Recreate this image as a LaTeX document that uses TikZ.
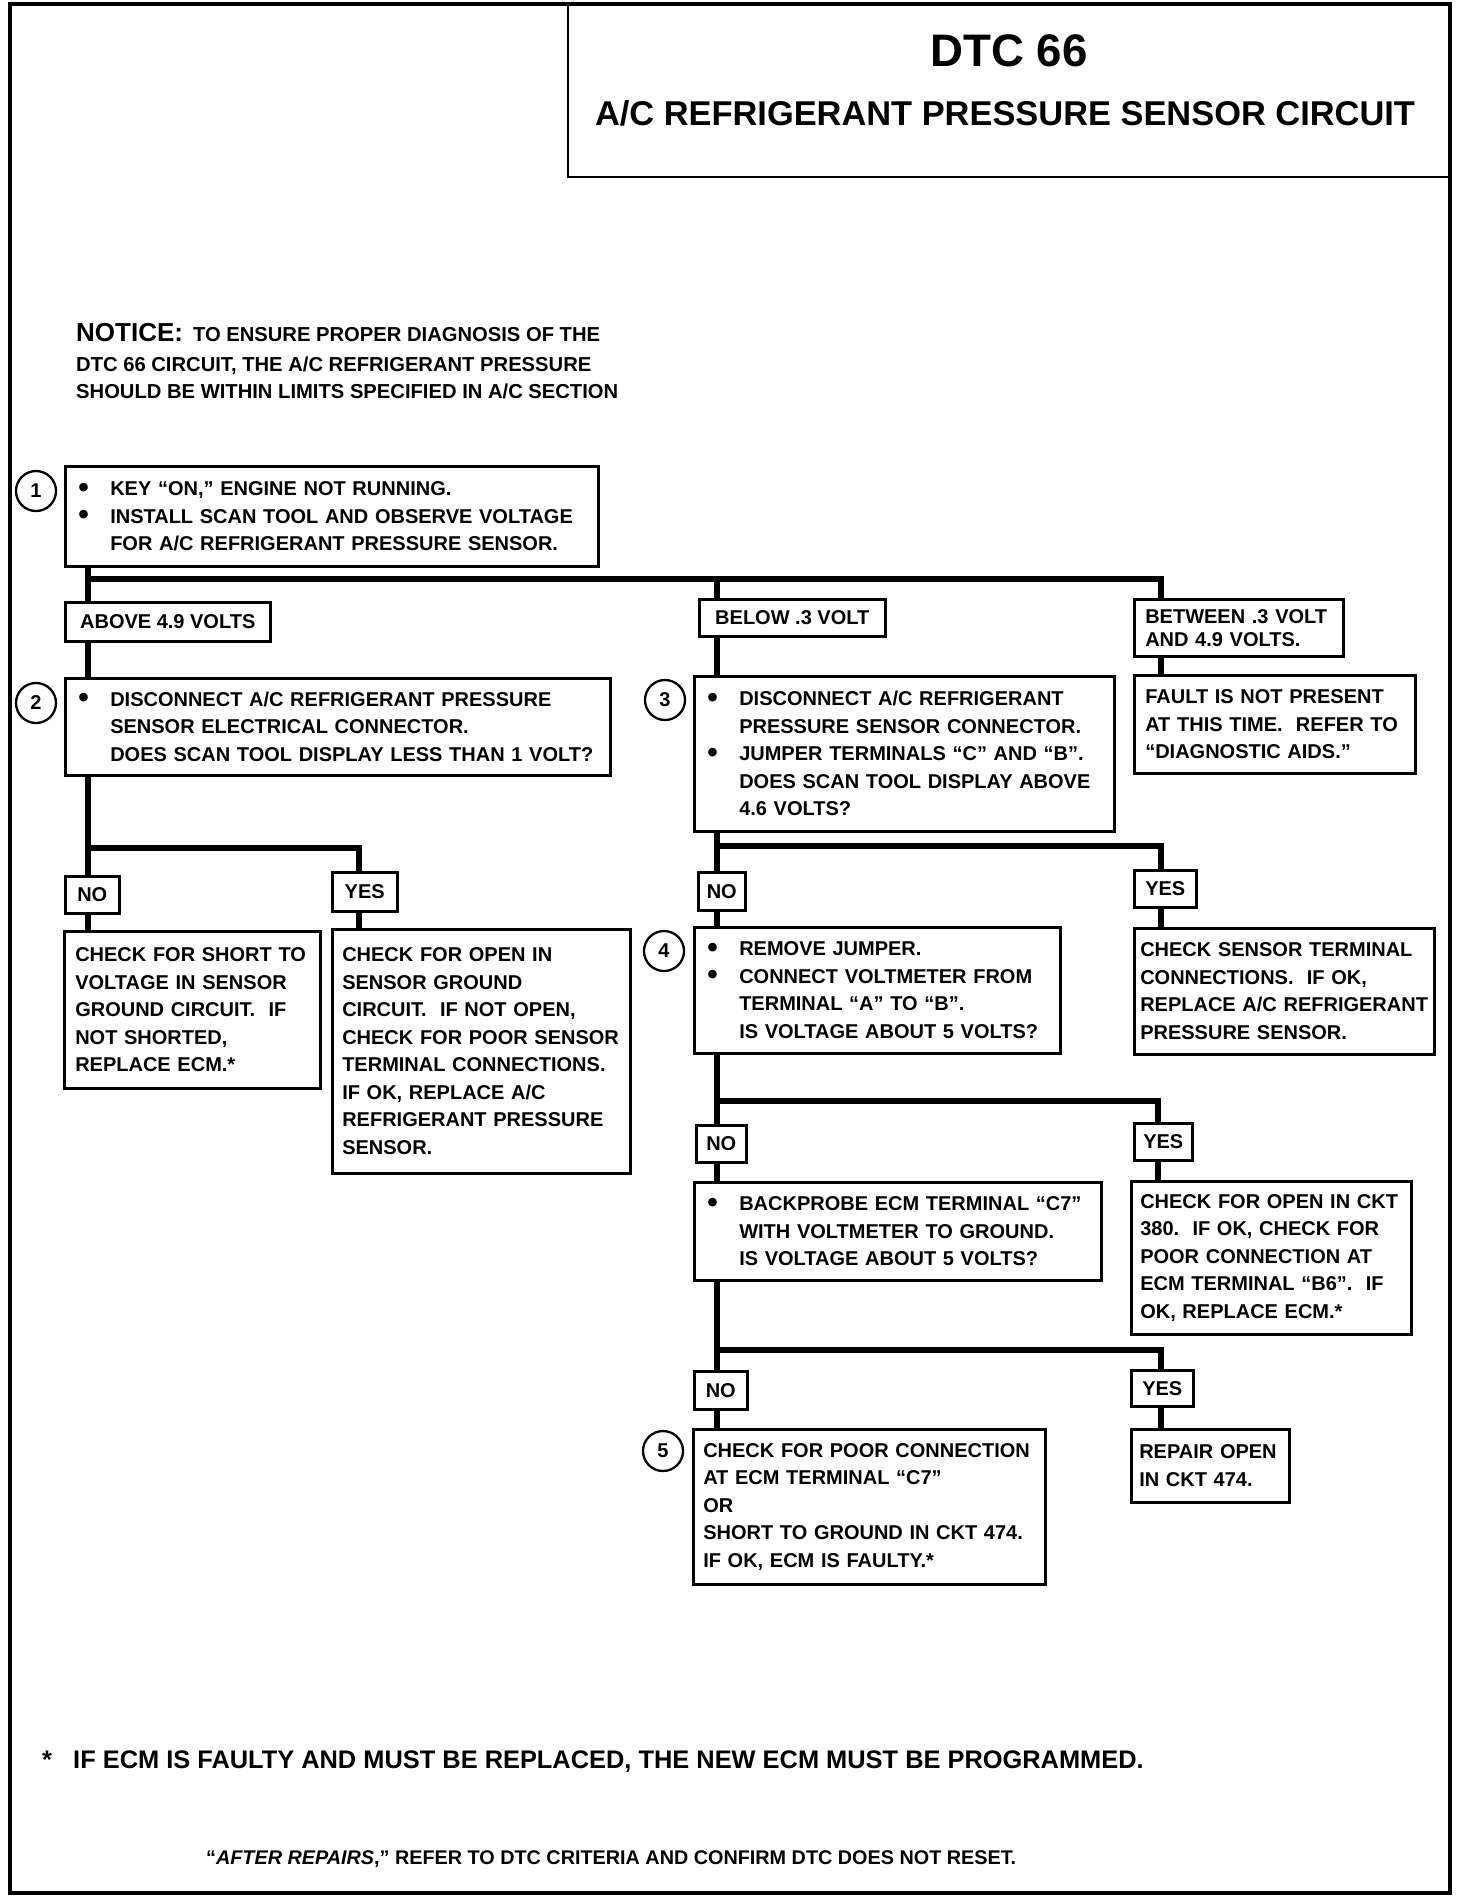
\documentclass[tikz,border=0pt]{standalone}
\usepackage{fontspec}
\setmainfont{Liberation Sans}
\newcommand\bodyf{\fontsize{20}{27.5}\selectfont\bfseries}
\newcommand\notef{\fontsize{20.2}{28}\selectfont\bfseries}
\newcommand\titlef{\fontsize{45.6}{50}\selectfont\bfseries}
\newcommand\subf{\fontsize{34.4}{40}\selectfont\bfseries}
\newcommand\footf{\fontsize{25.4}{30}\selectfont\bfseries}
\newcommand\bul{\hspace*{2pt}\makebox[32pt][l]{\smash{\raisebox{-1.5pt}{\scalebox{1.5}{•}}}}}
\newcommand\ind{\hspace*{34pt}}
\begin{document}
\begin{tikzpicture}[x=1pt,y=-1pt]
\tikzset{
  box/.style={draw, line width=2.5pt, anchor=north west, inner xsep=11pt, inner ysep=0pt, align=left, font=\bodyf},
  lbl/.style={draw, line width=2.5pt, anchor=north west, inner sep=0pt, align=center, font=\bodyf},
  conn/.style={line width=6.5pt, line join=miter},
  num/.style={draw, circle, line width=2.3pt, minimum size=40pt, inner sep=0pt, font=\bodyf},
}
\useasboundingbox (0,0) rectangle (1472,1900);
% frame and title
\draw[line width=3.5pt] (10,4) rectangle (1450,1893);
\draw[line width=2.6pt] (568,4) rectangle (1450,177);
\node[font=\titlef, anchor=base] (dtc) at (1009,67) {DTC 66};
\node[font=\subf, anchor=base] (sub) at (1005,125) {A/C REFRIGERANT PRESSURE SENSOR CIRCUIT};
% notice
\node[font=\notef, anchor=base west, inner sep=0pt] (n1) at (76,341) {{\fontsize{26}{28}\selectfont NOTICE:}\hspace{10pt}TO ENSURE PROPER DIAGNOSIS OF THE};
\node[font=\notef, anchor=base west, inner sep=0pt] (n2) at (76,371) {DTC 66 CIRCUIT, THE A/C REFRIGERANT PRESSURE};
\node[font=\notef, anchor=base west, inner sep=0pt] (n3) at (76,398) {SHOULD BE WITHIN LIMITS SPECIFIED IN A/C SECTION};
% left column
\node[box, text width=511pt, minimum width=533pt, minimum height=100pt] (b1) at (64,465)
 {\bul KEY “ON,” ENGINE NOT RUNNING.\\\bul INSTALL SCAN TOOL AND OBSERVE VOLTAGE\\\ind FOR A/C REFRIGERANT PRESSURE SENSOR.};
\node[num] (c1) at (36,491) {1};
\node[lbl, minimum width=205pt, minimum height=39pt] (above) at (64,601) {ABOVE 4.9 VOLTS};
\node[box, text width=523pt, minimum width=545pt, minimum height=97pt] (b2) at (64,677)
 {\bul DISCONNECT A/C REFRIGERANT PRESSURE\\\ind SENSOR ELECTRICAL CONNECTOR.\\\ind DOES SCAN TOOL DISPLAY LESS THAN 1 VOLT?};
\node[num] (c2) at (36,703) {2};
\node[lbl, minimum width=54pt, minimum height=37pt] (noL) at (64,875) {NO};
\node[lbl, minimum width=65pt, minimum height=39pt] (yesL) at (331,871) {YES};
\node[box, text width=234pt, minimum width=256pt, minimum height=157pt] (rNoL) at (63,930)
 {CHECK FOR SHORT TO\\VOLTAGE IN SENSOR\\GROUND CIRCUIT.\ \ IF\\NOT SHORTED,\\REPLACE ECM.*};
\node[box, text width=278pt, inner xsep=10pt, minimum width=298pt, minimum height=244pt] (rYesL) at (331,928)
 {CHECK FOR OPEN IN\\SENSOR GROUND\\CIRCUIT.\ \ IF NOT OPEN,\\CHECK FOR POOR SENSOR\\TERMINAL CONNECTIONS.\\IF OK, REPLACE A/C\\REFRIGERANT PRESSURE\\SENSOR.};
% middle column
\node[lbl, minimum width=186pt, minimum height=37pt] (below) at (698,598) {BELOW .3 VOLT};
\node[box, text width=398pt, minimum width=420pt, minimum height=155pt] (b3) at (693,675)
 {\bul DISCONNECT A/C REFRIGERANT\\\ind PRESSURE SENSOR CONNECTOR.\\\bul JUMPER TERMINALS “C” AND “B”.\\\ind DOES SCAN TOOL DISPLAY ABOVE\\\ind 4.6 VOLTS?};
\node[num] (c3) at (665,700) {3};
\node[lbl, minimum width=47pt, minimum height=38pt] (no3) at (697,871) {NO};
\node[box, text width=344pt, minimum width=366pt, minimum height=126pt] (b4) at (693,926)
 {\bul REMOVE JUMPER.\\\bul CONNECT VOLTMETER FROM\\\ind TERMINAL “A” TO “B”.\\\ind IS VOLTAGE ABOUT 5 VOLTS?};
\node[num] (c4) at (664,951) {4};
\node[lbl, minimum width=50pt, minimum height=37pt] (no4) at (695,1124) {NO};
\node[box, text width=385pt, minimum width=407pt, minimum height=98pt] (b5a) at (693,1181)
 {\bul BACKPROBE ECM TERMINAL “C7”\\\ind WITH VOLTMETER TO GROUND.\\\ind IS VOLTAGE ABOUT 5 VOLTS?};
\node[lbl, minimum width=53pt, minimum height=38pt] (no5) at (693,1370) {NO};
\node[box, text width=332pt, inner xsep=10pt, minimum width=352pt, minimum height=155pt] (b5) at (692,1428)
 {CHECK FOR POOR CONNECTION\\AT ECM TERMINAL “C7”\\OR\\SHORT TO GROUND IN CKT 474.\\IF OK, ECM IS FAULTY.*};
\node[num] (c5) at (663,1451) {5};
% right column
\node[box, font=\fontsize{20}{23}\selectfont\bfseries, text width=187pt, minimum width=209pt, minimum height=57pt] (between) at (1133,598)
 {BETWEEN .3 VOLT\\AND 4.9 VOLTS.};
\node[box, text width=259pt, minimum width=281pt, minimum height=98pt] (fault) at (1133,674)
 {FAULT IS NOT PRESENT\\AT THIS TIME.\ \ REFER TO\\“DIAGNOSTIC AIDS.”};
\node[lbl, minimum width=62pt, minimum height=37pt] (yes3) at (1133,869) {YES};
\node[box, text width=288pt, inner xsep=6pt, minimum width=300pt, minimum height=126pt] (r3yes) at (1133,927)
 {CHECK SENSOR TERMINAL\\CONNECTIONS.\ \ IF OK,\\REPLACE A/C REFRIGERANT\\PRESSURE SENSOR.};
\node[lbl, minimum width=58pt, minimum height=37pt] (yes4) at (1133,1122) {YES};
\node[box, text width=262pt, inner xsep=9pt, minimum width=280pt, minimum height=153pt] (r4yes) at (1130,1180)
 {CHECK FOR OPEN IN CKT\\380.\ \ IF OK, CHECK FOR\\POOR CONNECTION AT\\ECM TERMINAL “B6”.\ \ IF\\OK, REPLACE ECM.*};
\node[lbl, minimum width=62pt, minimum height=36pt] (yes5) at (1130,1369) {YES};
\node[box, text width=142pt, inner xsep=8pt, minimum width=158pt, minimum height=73pt] (repair) at (1130,1428)
 {REPAIR OPEN\\IN CKT 474.};
% connector junctions
\coordinate (cL) at (88,579);
\coordinate (cM) at (717,579);
\coordinate (cR) at (1161,579);
\coordinate (sL) at (88,848);
\coordinate (sLy) at (359,848);
\coordinate (s1) at (717,846);
\coordinate (s1y) at (1161,846);
\coordinate (s2) at (717,1101);
\coordinate (s2y) at (1158,1101);
\coordinate (s3) at (717,1350);
\coordinate (s3y) at (1161,1350);
% connectors
\draw[conn] (b1.south -| cL) -- (above.north -| cL);
\draw[conn] (cL) -- (cR) -- (between.north -| cR);
\draw[conn] (cM) -- (below.north -| cM);
\draw[conn] (above.south -| cL) -- (b2.north -| cL);
\draw[conn] (b2.south -| cL) -- (noL.north -| cL);
\draw[conn] (sL) -- (sLy) -- (yesL.north -| sLy);
\draw[conn] (noL.south -| cL) -- (rNoL.north -| cL);
\draw[conn] (yesL.south -| sLy) -- (rYesL.north -| sLy);
\draw[conn] (below.south -| cM) -- (b3.north -| cM);
\draw[conn] (between.south -| cR) -- (fault.north -| cR);
\draw[conn] (b3.south -| cM) -- (no3.north -| cM);
\draw[conn] (s1) -- (s1y) -- (yes3.north -| s1y);
\draw[conn] (no3.south -| cM) -- (b4.north -| cM);
\draw[conn] (yes3.south -| s1y) -- (r3yes.north -| s1y);
\draw[conn] (b4.south -| cM) -- (no4.north -| cM);
\draw[conn] (s2) -- (s2y) -- (yes4.north -| s2y);
\draw[conn] (no4.south -| cM) -- (b5a.north -| cM);
\draw[conn] (yes4.south -| s2y) -- (r4yes.north -| s2y);
\draw[conn] (b5a.south -| cM) -- (no5.north -| cM);
\draw[conn] (s3) -- (s3y) -- (yes5.north -| s3y);
\draw[conn] (no5.south -| cM) -- (b5.north -| cM);
\draw[conn] (yes5.south -| s3y) -- (repair.north -| s3y);
% footnotes
\node[font=\footf, anchor=base west, inner sep=0pt] (star) at (42,1768) {*};
\node[font=\footf, anchor=base west, inner sep=0pt] (foot) at (73,1768) {IF ECM IS FAULTY AND MUST BE REPLACED, THE NEW ECM MUST BE PROGRAMMED.};
\node[font=\fontsize{19.8}{24}\selectfont\bfseries, anchor=base west, inner sep=0pt] (after) at (206,1864) {“\textit{AFTER REPAIRS},” REFER TO DTC CRITERIA AND CONFIRM DTC DOES NOT RESET.};
\end{tikzpicture}
\end{document}
